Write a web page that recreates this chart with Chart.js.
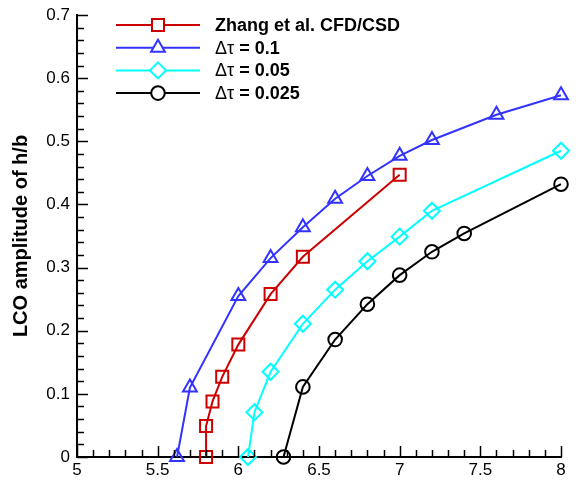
<!DOCTYPE html>
<html>
<head>
<meta charset="utf-8">
<script src="https://cdn.jsdelivr.net/npm/chart.js@4.4.1/dist/chart.umd.min.js"></script>
<style>
    html, body { margin: 0; padding: 0; background: #fff; }
    #box { width: 577px; height: 492px; }
</style>
</head>
<body>
<div id="box"><canvas id="lcoChart"></canvas></div>
<script>
// ===============================
// DATA
// ===============================

const zhangX = [5.80, 5.80, 5.84, 5.90, 6.00, 6.20, 6.40, 7.00];
const zhangY = [0.000, 0.049, 0.088, 0.127, 0.178, 0.258, 0.317, 0.447];

const tau01X = [5.62, 5.70, 6.00, 6.20, 6.40, 6.60, 6.80, 7.00, 7.20, 7.60, 8.00];
const tau01Y = [0.000, 0.110, 0.255, 0.315, 0.364, 0.409, 0.445, 0.477, 0.502, 0.542, 0.573];

const tau005X = [6.06, 6.10, 6.20, 6.40, 6.60, 6.80, 7.00, 7.20, 8.00];
const tau005Y = [0.000, 0.071, 0.135, 0.211, 0.265, 0.310, 0.349, 0.390, 0.485];

const tau0025X = [6.28, 6.40, 6.60, 6.80, 7.00, 7.20, 7.40, 8.00];
const tau0025Y = [0.000, 0.111, 0.186, 0.242, 0.288, 0.325, 0.354, 0.432];

const seriesNames = [
    "Zhang et al. CFD/CSD",
    "\u0394\u03c4 = 0.1",
    "\u0394\u03c4 = 0.05",
    "\u0394\u03c4 = 0.025"
];

const xTicks = [5, 5.5, 6, 6.5, 7, 7.5, 8];
const yTicks = [0, 0.1, 0.2, 0.3, 0.4, 0.5, 0.6, 0.7];

const yTitle = "LCO amplitude of h/b";

const FONT = "'Liberation Sans', Arial, sans-serif";

// =================================
// HELPERS
// =================================

function toPoints(xs, ys) {
    return xs.map((x, i) => ({ x: x, y: ys[i] }));
}

function makeSet(label, xs, ys, color, style, radius) {
    return {
        label: label,
        data: toPoints(xs, ys),
        borderColor: color,
        backgroundColor: "rgba(0,0,0,0)",
        borderWidth: 2,
        pointStyle: style,
        pointRadius: radius,
        pointBorderWidth: 2,
        pointBorderColor: color,
        pointBackgroundColor: "rgba(0,0,0,0)",
        showLine: true,
        tension: 0
    };
}

// inside ticks, major + minor
const insideTicks = {
    id: "insideTicks",
    afterDraw(chart) {
        const ctx = chart.ctx;
        const xs = chart.scales.x;
        const ys = chart.scales.y;
        const a = chart.chartArea;
        ctx.save();
        ctx.strokeStyle = "#000";
        ctx.lineWidth = 1.5;
        for (let i = 0; i <= 30; i++) {
            const v = 5 + i * 0.1;
            const px = Math.round(xs.getPixelForValue(v)) + 0.5;
            const len = (i % 5 === 0) ? 11 : 7;
            ctx.beginPath();
            ctx.moveTo(px, a.bottom);
            ctx.lineTo(px, a.bottom - len);
            ctx.stroke();
        }
        for (let i = 0; i <= 35; i++) {
            const v = i * 0.02;
            const py = Math.round(ys.getPixelForValue(v)) + 0.5;
            const len = (i % 5 === 0) ? 11 : 7;
            ctx.beginPath();
            ctx.moveTo(a.left, py);
            ctx.lineTo(a.left + len, py);
            ctx.stroke();
        }
        ctx.restore();
    }
};

// legend inside the plot, top left
const innerLegend = {
    id: "innerLegend",
    afterDraw(chart) {
        const ctx = chart.ctx;
        const a = chart.chartArea;
        const x0 = a.left + 39;
        const x1 = a.left + 123;
        const mx = (x0 + x1) / 2;
        const tx = a.left + 138;
        ctx.save();
        chart.data.datasets.forEach((ds, i) => {
            const y = a.top + 10 + i * 22.7;
            ctx.strokeStyle = ds.borderColor;
            ctx.lineWidth = 2;
            ctx.beginPath();
            ctx.moveTo(x0, y);
            ctx.lineTo(x1, y);
            ctx.stroke();
            ctx.fillStyle = "#fff";
            Chart.helpers.drawPoint(ctx, {
                pointStyle: ds.pointStyle,
                radius: ds.pointRadius,
                borderWidth: 2
            }, mx, y);
            ctx.fillStyle = "#000";
            ctx.textBaseline = "middle";
            const name = seriesNames[i];
            if (name.startsWith("\u0394")) {
                ctx.font = "18px " + FONT;
                ctx.fillText("\u0394\u03c4", tx, y + 1);
                const w = ctx.measureText("\u0394\u03c4").width;
                ctx.font = "bold 18px " + FONT;
                ctx.fillText(name.slice(2), tx + w, y + 1);
            } else {
                ctx.font = "bold 18px " + FONT;
                ctx.fillText(name, tx, y + 1);
            }
        });
        ctx.restore();
    }
};

// =================================
// CHART
// =================================

window.onload = function () {

    const canvas =
        document.getElementById("lcoChart");

    new Chart(canvas, {

        type: "scatter",

        data: {
            datasets: [
                makeSet(seriesNames[0], zhangX, zhangY, "#cc0000", "rect", 8.5),
                makeSet(seriesNames[1], tau01X, tau01Y, "#3333ff", "triangle", 8),
                makeSet(seriesNames[2], tau005X, tau005Y, "#00ffff", "rectRot", 8),
                makeSet(seriesNames[3], tau0025X, tau0025Y, "#000000", "circle", 6.8)
            ]
        },

        options: {
            responsive: true,
            maintainAspectRatio: false,
            animation: false,
            clip: false,
            layout: {
                padding: { top: 15, right: 16, left: 0, bottom: 0 }
            },
            plugins: {
                legend: { display: false },
                tooltip: { enabled: false }
            },
            scales: {
                x: {
                    type: "linear",
                    min: 5,
                    max: 8,
                    afterFit(scale) {
                        scale.height = 35;
                        scale.paddingLeft = 0;
                        scale.paddingRight = 0;
                    },
                    afterBuildTicks(scale) {
                        scale.ticks = xTicks.map(v => ({ value: v }));
                    },
                    grid: { display: false, drawTicks: false },
                    border: { display: true, color: "#000", width: 2 },
                    ticks: {
                        padding: 3,
                        color: "#000",
                        font: { family: FONT, size: 17 },
                        maxRotation: 0,
                        callback: v => String(v)
                    }
                },
                y: {
                    type: "linear",
                    min: 0,
                    max: 0.7,
                    afterFit(scale) {
                        scale.width = 77;
                        scale.paddingTop = 0;
                        scale.paddingBottom = 0;
                    },
                    afterBuildTicks(scale) {
                        scale.ticks = yTicks.map(v => ({ value: v }));
                    },
                    grid: { display: false, drawTicks: false },
                    border: { display: true, color: "#000", width: 2 },
                    title: {
                        display: true,
                        text: yTitle,
                        color: "#000",
                        padding: { top: 9, bottom: 4 },
                        font: { family: FONT, size: 20, weight: "bold" }
                    },
                    ticks: {
                        padding: 7,
                        color: "#000",
                        font: { family: FONT, size: 17 },
                        callback: v => String(Math.round(v * 10) / 10)
                    }
                }
            }
        },

        plugins: [insideTicks, innerLegend]
    });
};
</script>
</body>
</html>
